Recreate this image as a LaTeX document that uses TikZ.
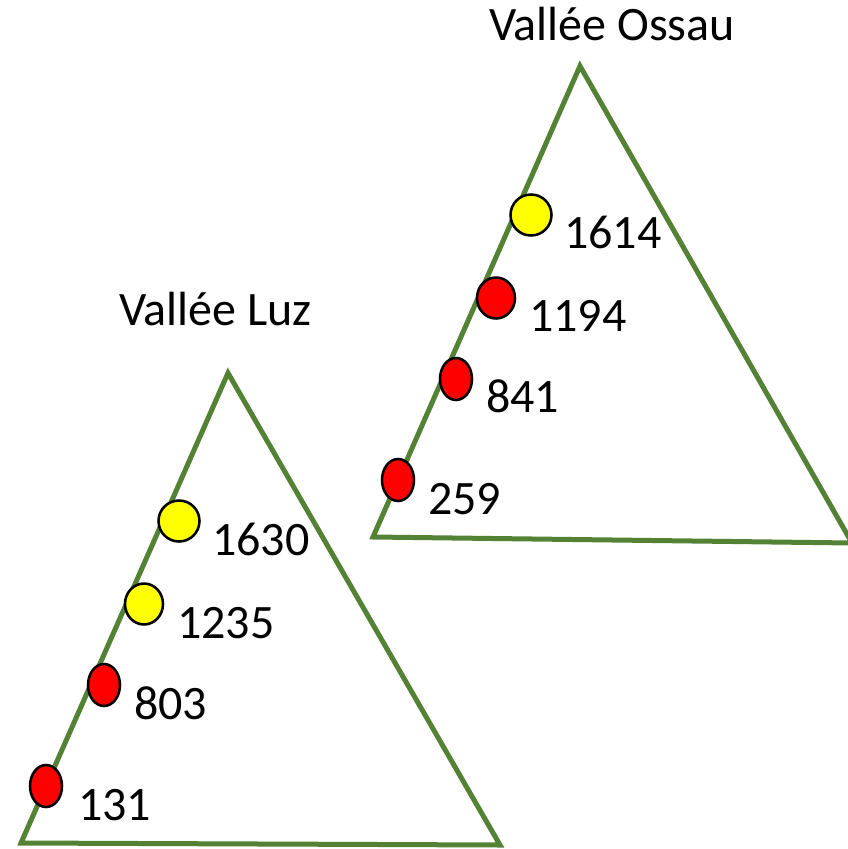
\documentclass[tikz,border=0pt]{standalone}
\usepackage{fontspec}
\setmainfont{Carlito}
\usetikzlibrary{shapes.geometric}
\definecolor{mtngreen}{RGB}{84,130,53}
\definecolor{dotred}{RGB}{255,0,0}
\definecolor{dotyellow}{RGB}{255,255,0}
\tikzset{
  mountain/.style={draw=mtngreen, line width=5*0.75pt, line join=miter},
  dot/.style={ellipse, draw=black, line width=1.9pt, inner sep=0pt},
  reddot/.style={dot, fill=dotred, minimum width=32*0.75pt, minimum height=42*0.75pt},
  bigreddot/.style={dot, fill=dotred, minimum width=38*0.75pt, minimum height=41*0.75pt},
  yellowdot/.style={dot, fill=dotyellow, minimum width=41*0.75pt, minimum height=41*0.75pt},
  alt/.style={anchor=base west, inner sep=0pt, font=\fontsize{36pt}{42pt}\selectfont},
  title/.style={anchor=base west, inner sep=0pt, font=\fontsize{36pt}{42pt}\selectfont}
}
\begin{document}
\begin{tikzpicture}[x=0.75pt, y=-0.75pt]
\useasboundingbox (0,0) rectangle (848,849);
% Ossau
\coordinate (oA) at (580,66);
\coordinate (oL) at (373,537);
\coordinate (oR) at (852,543);
\draw[mountain] (oL) -- (oA) -- (oR) -- cycle;
\node[title] (tO) at (489,41) {Vallée Ossau};
\node[yellowdot] (o1) at (531,215) {};
\node[bigreddot] (o2) at (496,298) {};
\node[reddot] (o3) at (456,379) {};
\node[reddot] (o4) at (398,480) {};
\node[alt] (l1) at (564,248) {1614};
\node[alt] (l2) at (529,331) {1194};
\node[alt] (l3) at (486,412) {841};
\node[alt] (l4) at (428,514) {259};
% Luz
\coordinate (lA) at (228,373);
\coordinate (lL) at (21,843);
\coordinate (lR) at (500,845);
\draw[mountain] (lL) -- (lA) -- (lR) -- cycle;
\node[title] (tL) at (119,325) {Vallée Luz};
\node[yellowdot] (u1) at (179,521) {};
\node[yellowdot, minimum width=38*0.75pt] (u2) at (144,604) {};
\node[reddot] (u3) at (104,685) {};
\node[reddot] (u4) at (46,786) {};
\node[alt] (m1) at (212,555) {1630};
\node[alt] (m2) at (177,638) {1235};
\node[alt] (m3) at (134,719) {803};
\node[alt] (m4) at (78,820) {131};
\end{tikzpicture}
\end{document}
